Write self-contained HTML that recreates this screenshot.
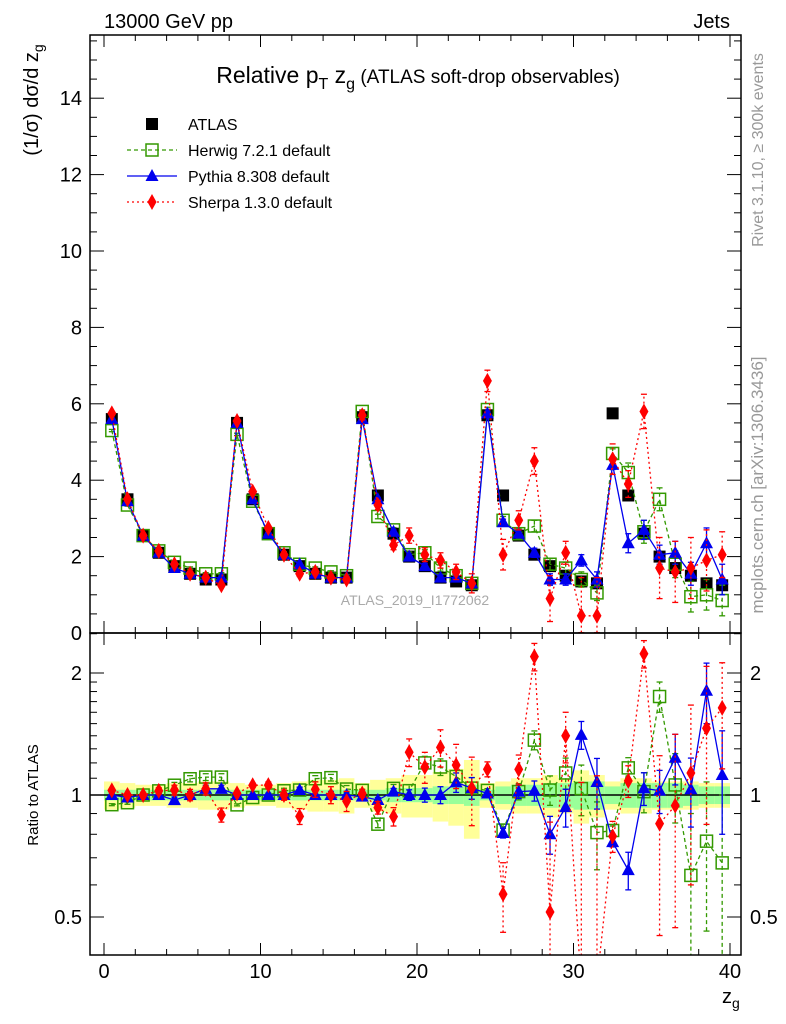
<!DOCTYPE html>
<html><head><meta charset="utf-8"><style>
html,body{margin:0;padding:0;background:#fff;width:786px;height:1024px;overflow:hidden;}
svg{display:block;font-family:"Liberation Sans",sans-serif;}
</style></head><body>
<svg id="c" width="786" height="1024" viewBox="0 0 786 1024">
<text x="104" y="28" font-size="20">13000 GeV pp</text>
<text x="730" y="28" font-size="20" text-anchor="end">Jets</text>
<text x="418" y="83" font-size="23" text-anchor="middle">Relative p<tspan font-size="16" dy="6">T</tspan><tspan dy="-6"> z</tspan><tspan font-size="16" dy="6">g</tspan><tspan dy="-6" font-size="19"> (ATLAS soft-drop observables)</tspan></text>
<text transform="translate(38,100) rotate(-90)" font-size="20" text-anchor="middle">(1/σ) dσ/d z<tspan font-size="14" dy="5">g</tspan></text>
<text transform="translate(38,795) rotate(-90)" font-size="15" text-anchor="middle">Ratio to ATLAS</text>
<text transform="translate(763,150) rotate(-90)" font-size="16" fill="#999" text-anchor="middle">Rivet 3.1.10, ≥ 300k events</text>
<text transform="translate(763,485) rotate(-90)" font-size="17" fill="#999" text-anchor="middle">mcplots.cern.ch [arXiv:1306.3436]</text>
<text x="415" y="605" font-size="14" fill="#aaa" text-anchor="middle">ATLAS_2019_I1772062</text>
<text x="722" y="1003" font-size="20">z<tspan font-size="14" dy="5">g</tspan></text>
<g id="g"></g>
</svg>
<script>
const centers=[0.5,1.5,2.5,3.5,4.5,5.5,6.5,7.5,8.5,9.5,10.5,11.5,12.5,13.5,14.5,15.5,16.5,17.5,18.5,19.5,20.5,21.5,22.5,23.5,24.5,25.5,26.5,27.5,28.5,29.5,30.5,31.5,32.5,33.5,34.5,35.5,36.5,37.5,38.5,39.5];
const atlas=[5.6,3.5,2.55,2.1,1.75,1.55,1.4,1.4,5.5,3.5,2.6,2.05,1.75,1.55,1.45,1.45,5.65,3.6,2.6,2.0,1.75,1.45,1.35,1.25,5.7,3.6,2.55,2.05,1.75,1.5,1.35,1.3,5.75,3.6,2.6,2.0,1.7,1.5,1.3,1.25];
const atlasStat=[0.03,0.03,0.03,0.03,0.03,0.03,0.03,0.03,0.03,0.03,0.03,0.03,0.03,0.03,0.03,0.03,0.03,0.03,0.04,0.04,0.04,0.05,0.05,0.06,0.03,0.05,0.06,0.06,0.07,0.07,0.08,0.08,0.05,0.07,0.07,0.07,0.07,0.06,0.05,0.05];
const atlasTot=[0.08,0.07,0.06,0.06,0.07,0.07,0.08,0.08,0.07,0.06,0.06,0.07,0.08,0.09,0.09,0.1,0.07,0.09,0.1,0.12,0.12,0.14,0.16,0.22,0.07,0.08,0.1,0.1,0.12,0.1,0.15,0.12,0.08,0.1,0.1,0.08,0.08,0.08,0.07,0.07];
const herwig=[5.3,3.35,2.55,2.15,1.85,1.7,1.55,1.55,5.2,3.45,2.6,2.1,1.8,1.7,1.6,1.5,5.8,3.05,2.7,2.05,2.1,1.7,1.5,1.3,5.85,2.95,2.6,2.8,1.8,1.7,1.4,1.05,4.7,4.2,2.65,3.5,1.8,0.95,1.0,0.85];
const herwigErr=[0.03,0.03,0.03,0.03,0.03,0.03,0.03,0.03,0.03,0.03,0.03,0.03,0.03,0.03,0.03,0.03,0.04,0.06,0.06,0.07,0.08,0.08,0.08,0.08,0.06,0.1,0.12,0.15,0.15,0.15,0.2,0.2,0.12,0.25,0.3,0.3,0.35,0.4,0.4,0.4];
const pythia=[5.6,3.45,2.55,2.1,1.7,1.55,1.45,1.45,5.5,3.5,2.6,2.05,1.8,1.55,1.45,1.45,5.6,3.5,2.65,2.0,1.75,1.45,1.45,1.3,5.75,2.9,2.6,2.1,1.4,1.4,1.9,1.4,4.4,2.35,2.7,2.05,2.1,1.55,2.35,1.4];
const pythiaErr=[0.02,0.02,0.02,0.02,0.03,0.03,0.03,0.03,0.02,0.02,0.02,0.03,0.03,0.03,0.03,0.03,0.03,0.05,0.05,0.06,0.07,0.07,0.08,0.08,0.05,0.08,0.1,0.12,0.15,0.15,0.15,0.2,0.12,0.25,0.25,0.25,0.3,0.3,0.4,0.4];
const sherpa=[5.75,3.5,2.55,2.15,1.8,1.55,1.45,1.25,5.55,3.7,2.75,2.05,1.55,1.6,1.45,1.4,5.7,3.35,2.3,2.55,2.05,1.9,1.6,1.3,6.6,2.05,2.95,4.5,0.9,2.1,0.45,0.45,4.55,3.9,5.8,1.7,1.6,1.7,1.9,2.05];
const sherpaErr=[0.03,0.03,0.04,0.04,0.05,0.05,0.05,0.05,0.04,0.04,0.05,0.06,0.07,0.07,0.07,0.08,0.12,0.12,0.12,0.2,0.18,0.2,0.2,0.25,0.28,0.4,0.25,0.35,0.6,0.3,1,1,0.4,0.35,0.45,0.8,0.8,0.8,0.8,0.6];
const xTicks=[0,10,20,30,40];
const yTicks=[0,2,4,6,8,10,12,14];
const rTicks=[0.5,1,2];

const NS="http://www.w3.org/2000/svg",G=document.getElementById('g');
const L=90,R=741,T=35,M=633,B=955;
const X=v=>104+v*15.65;
const Y=v=>633-v*38.2;
const RY=r=>795-122*Math.log2(r);
function el(t,a,p){const e=document.createElementNS(NS,t);for(const k in a)e.setAttribute(k,a[k]);(p||G).appendChild(e);return e;}
const clipM=el('clipPath',{id:'cm'});el('rect',{x:L,y:T,width:R-L,height:M-T},clipM);
const clipR=el('clipPath',{id:'cr'});el('rect',{x:L,y:M,width:R-L,height:B-M},clipR);
const gm=el('g',{'clip-path':'url(#cm)'});


const gr=el('g',{'clip-path':'url(#cr)'});



centers.forEach((c,i)=>{
 const y=el('rect',{x:X(c-0.5),y:RY(1+atlasTot[i]),width:15.65,height:RY(1-atlasTot[i])-RY(1+atlasTot[i]),fill:'#ffff99'},gr);
 
 
 const g=el('rect',{x:X(c-0.5),y:RY(1+atlasStat[i]),width:15.65,height:RY(1-atlasStat[i])-RY(1+atlasStat[i]),fill:'#99ff99'},gr);
 
 
});
el('line',{x1:L,x2:R,y1:RY(1),y2:RY(1),stroke:'#000','stroke-width':1.5},gr);

function marker(kind,x,y,col,p){
 let m;
 if(kind==='sq')m=el('rect',{x:x-6,y:y-6,width:12,height:12,fill:'none',stroke:col,'stroke-width':1.5},p);
 else if(kind==='tri')m=el('path',{d:`M${x},${y-7}L${x+6.5},${y+5}L${x-6.5},${y+5}Z`,fill:col},p);
 else if(kind==='dia')m=el('path',{d:`M${x},${y-8}L${x+4.5},${y}L${x},${y+8}L${x-4.5},${y}Z`,fill:col},p);
 else m=el('rect',{x:x-6,y:y-6,width:12,height:12,fill:col},p);
 return m;
}
function series(vals,err,col,kind,dash,name){
 [[gm,Y],[gr,RY]].forEach(([p,F],pi)=>{
  const v=vals.map((d,i)=>pi?d/atlas[i]:d);
  const e=err.map((d,i)=>pi?d/atlas[i]:d);
  const pts=centers.map((c,i)=>X(c)+','+F(Math.max(v[i],0.01)).toFixed(1)).join(' ');
  const pl=el('polyline',{points:pts,fill:'none',stroke:col,'stroke-width':1.3,'stroke-dasharray':dash},p);
  
  
  centers.forEach((c,i)=>{
   const lo=Math.max(v[i]-e[i],0.01),hi=v[i]+e[i];
   el('line',{x1:X(c),x2:X(c),y1:F(lo),y2:F(hi),stroke:col,'stroke-width':1.3,'stroke-dasharray':dash},p);
   el('line',{x1:X(c)-3,x2:X(c)+3,y1:F(lo),y2:F(lo),stroke:col,'stroke-width':1.3},p);
   el('line',{x1:X(c)-3,x2:X(c)+3,y1:F(hi),y2:F(hi),stroke:col,'stroke-width':1.3},p);
   const m=marker(kind,X(c),F(Math.max(v[i],0.01)),col,p);
   
   
  });
 });
}
centers.forEach((c,i)=>{
 const m=marker('blk',X(c),Y(atlas[i]),'#000',gm);
 
 
});
series(herwig,herwigErr,'#339900','sq','4,3','herwig');
series(pythia,pythiaErr,'#0000ee','tri','','pythia');
series(sherpa,sherpaErr,'#ff0000','dia','2,3','sherpa');

el('rect',{x:L,y:T,width:R-L,height:M-T,fill:'none',stroke:'#000','stroke-width':1.5});
el('rect',{x:L,y:M,width:R-L,height:B-M,fill:'none',stroke:'#000','stroke-width':1.5});
for(let v=0;v<=40;v+=2){const big=v%10===0,l=big?12:6;
 [T,M,B].forEach((yy,k)=>{
  if(k!==0)el('line',{x1:X(v),x2:X(v),y1:yy,y2:yy-l,stroke:'#000'});
  if(k!==2)el('line',{x1:X(v),x2:X(v),y1:yy,y2:yy+l,stroke:'#000'});
 });
}
xTicks.forEach(v=>{const t=el('text',{x:X(v),y:978,'font-size':20,'text-anchor':'middle'});t.textContent=v;
 
 });
for(let v=0;v<=15.5;v+=0.5){const big=v%2===0,l=big?14:7;if(Y(v)<T)break;
 el('line',{x1:L,x2:L+l,y1:Y(v),y2:Y(v),stroke:'#000'});el('line',{x1:R,x2:R-l,y1:Y(v),y2:Y(v),stroke:'#000'});}
yTicks.forEach(v=>{const t=el('text',{x:82,y:Y(v)+7,'font-size':20,'text-anchor':'end'});t.textContent=v;
 
 });
[0.5,0.6,0.7,0.8,0.9,1,1.1,1.2,1.3,1.4,1.5,1.6,1.7,1.8,1.9,2,2.5].forEach(r=>{const big=rTicks.includes(r),l=big?14:7;
 el('line',{x1:L,x2:L+l,y1:RY(r),y2:RY(r),stroke:'#000'});el('line',{x1:R,x2:R-l,y1:RY(r),y2:RY(r),stroke:'#000'});});
rTicks.forEach(r=>{
 const t=el('text',{x:82,y:RY(r)+7,'font-size':20,'text-anchor':'end'});t.textContent=r;
 
 
 const t2=el('text',{x:750,y:RY(r)+7,'font-size':20});t2.textContent=r;
 
 
});
const leg=[['ATLAS','blk','#000',''],['Herwig 7.2.1 default','sq','#339900','4,3'],['Pythia 8.308 default','tri','#0000ee',''],['Sherpa 1.3.0 default','dia','#ff0000','2,3']];
leg.forEach((d,i)=>{const y=124+i*26;
 const g=el('g',{});
 
 
 if(i>0)el('line',{x1:127,x2:177,y1:y,y2:y,stroke:d[2],'stroke-width':1.3,'stroke-dasharray':d[3]},g);
 marker(d[1],152,y,d[2],g);
 const t=el('text',{x:188,y:y+6,'font-size':16},g);t.textContent=d[0];
});
</script>
</body></html>
